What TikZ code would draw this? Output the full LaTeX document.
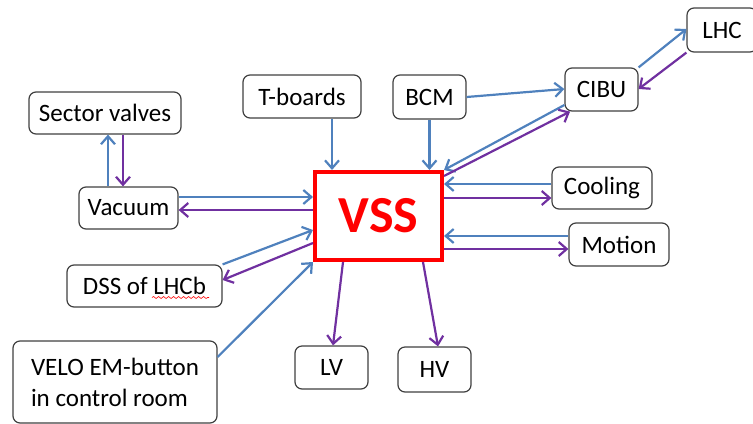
\documentclass[tikz,border=0pt]{standalone}
\usepackage{fontspec}
\setmainfont{Carlito}
\usepackage{tikz}
\usetikzlibrary{arrows.meta,decorations.pathmorphing}
\definecolor{linkblue}{RGB}{79,129,189}
\definecolor{linkpurple}{RGB}{112,48,160}

\begin{document}
\begin{tikzpicture}[x=0.5pt,y=-0.5pt,>={Straight Barb[length=4pt,width=7pt]},
  box/.style={draw=black!75,line width=0.6pt,rounded corners=3.5pt,fill=white,inner sep=2pt,font=\fontsize{12.5}{15.5}\selectfont},
  blu/.style={->,line width=1.1pt,linkblue},
  pur/.style={->,line width=1.1pt,linkpurple}]
\useasboundingbox (0,0) rectangle (753,423);
%
\node (vss) at (378.5,216) [draw=red,line width=2pt,fill=white,minimum width=63.5pt,minimum height=44pt,text=red,font=\fontsize{26}{30}\bfseries] {VSS};
%
\node (sv) at (105,113) [box,minimum width=76pt,minimum height=21pt] {Sector valves};
\node (vac) at (128.5,208) [box,minimum width=49.5pt,minimum height=21pt] {Vacuum};
\node (dss) at (144.5,286) [box,minimum width=77.5pt,minimum height=21pt] {DSS of LHCb};
\node (velo) at (115,382) [box,minimum width=102pt,minimum height=41pt,align=left] {VELO EM-button\\in control room};
\node (tb) at (302,96.5) [box,minimum width=59pt,minimum height=21.5pt] {T-boards};
\node (bcm) at (429.5,97) [box,minimum width=36.5pt,minimum height=22pt] {BCM};
\node (cibu) at (601.5,89.5) [box,minimum width=36.5pt,minimum height=21.5pt] {CIBU};
\node (lhc) at (722,30) [box,minimum width=35pt,minimum height=22pt] {LHC};
\node (cool) at (602,188) [box,minimum width=50pt,minimum height=21pt] {Cooling};
\node (mot) at (619,244.5) [box,minimum width=50pt,minimum height=21.5pt] {Motion};
\node (lv) at (331.5,367.5) [box,minimum width=36.5pt,minimum height=21.5pt] {LV};
\node (hv) at (434.5,369.5) [box,minimum width=36.5pt,minimum height=22.5pt] {HV};
\draw [red,line width=0.3pt,decorate,decoration={snake,amplitude=0.5pt,segment length=2.5pt}] (152,297.5) -- (209,297.5);
%
\draw [blu] (vac.north -| 108,0) -- (sv.south -| 108,0);
\draw [pur] (sv.south -| 123,0) -- (vac.north -| 123,0);
\draw [blu] (vac.east |- 0,197) -- (vss.west |- 0,197);
\draw [pur] (vss.west |- 0,210) -- (vac.east |- 0,210);
\draw [blu] (dss.north east) -- (vss.west |- 0,230);
\draw [pur] (vss.west |- 0,243) -- (dss.east |- 0,280);
\draw [blu] (velo.east |- 0,357) -- (vss.south west);
%
\draw [blu] (tb.south -| 332,0) -- (vss.north -| 332,0);
\draw [blu] (bcm.south) -- (vss.north -| bcm.south);
\draw [blu] (bcm.east |- 0,97) -- (cibu.west |- 0,89);
\draw [blu] (cibu.west |- 0,105) -- (vss.north east);
\draw [pur] (vss.east |- 0,176) -- (cibu.south -| 570,0);
\draw [blu] (cibu.north east) -- (lhc.west |- 0,29);
\draw [pur] (lhc.south west) -- (cibu.east |- 0,89);
%
\draw [blu] (cool.west |- 0,184) -- (vss.east |- 0,184);
\draw [pur] (vss.east |- 0,198) -- (cool.west |- 0,198);
\draw [blu] (mot.west |- 0,236) -- (vss.east |- 0,236);
\draw [pur] (vss.east |- 0,249) -- (mot.west |- 0,249);
%
\draw [pur] (vss.south -| 343,0) -- (lv.north -| 333,0);
\draw [pur] (vss.south -| 423,0) -- (hv.north -| 438,0);
\end{tikzpicture}
\end{document}
